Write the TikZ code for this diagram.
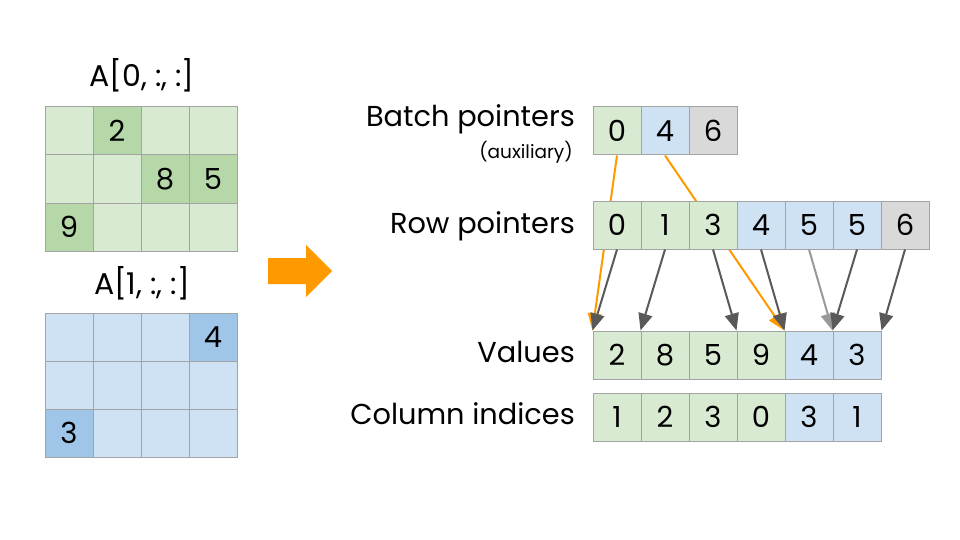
\documentclass[tikz,border=0pt]{standalone}
\usepackage{fontspec}
\setmainfont{Poppins}
\usetikzlibrary{arrows.meta,backgrounds}
\definecolor{lgreen}{HTML}{D9EAD3}
\definecolor{dgreen}{HTML}{B6D7A8}
\definecolor{lblue}{HTML}{CFE2F3}
\definecolor{dblue}{HTML}{9FC5E8}
\definecolor{lgrey}{HTML}{D9D9D9}
\definecolor{bgrey}{HTML}{A3A3A3}
\definecolor{orng}{HTML}{FF9900}
\definecolor{agrey}{HTML}{595959}
\definecolor{agreyl}{HTML}{999999}
\tikzset{
  cell/.style={draw=bgrey, line width=1pt, minimum width=48pt, minimum height=48pt,
    inner sep=0pt, font=\fontsize{29}{29}\selectfont},
  lbl/.style={anchor=base east, inner sep=0pt, font=\fontsize{28.8}{29}\selectfont},
  sublbl/.style={anchor=base east, inner sep=0pt, font=\fontsize{18.5}{19}\selectfont},
  ttl/.style={anchor=base, inner sep=0pt, font=\fontsize{30}{30}\selectfont},
  ptr/.style={draw=agrey, line width=2pt, -{Triangle[length=17pt,width=14pt]}},
  ptrl/.style={draw=agreyl, line width=2pt, -{Triangle[length=17pt,width=14pt]}},
  optr/.style={draw=orng, line width=2pt, -{Triangle[length=17pt,width=14pt]}},
}
\begin{document}
\begin{tikzpicture}[x=1pt,y=-1pt]
\useasboundingbox (0,0) rectangle (960,540);
% left matrices
\node[ttl] (t0) at (142,87) {A[0, :, :]};
\foreach \r/\c/\v/\f in {0/0//lgreen,0/1/2/dgreen,0/2//lgreen,0/3//lgreen,
  1/0//lgreen,1/1//lgreen,1/2/8/dgreen,1/3/5/dgreen,
  2/0/9/dgreen,2/1//lgreen,2/2//lgreen,2/3//lgreen}
  \node[cell,fill=\f] (p\r\c) at ({69+48*\c},{131+48*\r}) {\v};
\node[ttl] (t1) at (142,294) {A[1, :, :]};
\foreach \r/\c/\v/\f in {0/0//lblue,0/1//lblue,0/2//lblue,0/3/4/dblue,
  1/0//lblue,1/1//lblue,1/2//lblue,1/3//lblue,
  2/0/3/dblue,2/1//lblue,2/2//lblue,2/3//lblue}
  \node[cell,fill=\f] (q\r\c) at ({69+48*\c},{337+48*\r}) {\v};
% big arrow
\fill[orng] (268,258) -- (306,258) -- (306,245) -- (332,271) -- (306,297) -- (306,284) -- (268,284) -- cycle;
% labels
\node[lbl] (lb) at (575,127) {Batch pointers};
\node[sublbl] (la) at (573,159) {(auxiliary)};
\node[lbl] (lr) at (575,233) {Row pointers};
\node[lbl] (lv) at (575,362) {Values};
\node[lbl] (lc) at (575,424) {Column indices};
% arrays
\foreach \i/\v/\f in {0/0/lgreen,1/4/lblue,2/6/lgrey}
  \node[cell,fill=\f] (b\i) at ({617+48*\i},131) {\v};
\foreach \i/\v/\f in {0/0/lgreen,1/1/lgreen,2/3/lgreen,3/4/lblue,4/5/lblue,5/5/lblue,6/6/lgrey}
  \node[cell,fill=\f] (r\i) at ({617+48*\i},225) {\v};
\foreach \i/\v/\f in {0/2/lgreen,1/8/lgreen,2/5/lgreen,3/9/lgreen,4/4/lblue,5/3/lblue}
  \node[cell,fill=\f] (v\i) at ({617+48*\i},355) {\v};
\foreach \i/\v/\f in {0/1/lgreen,1/2/lgreen,2/3/lgreen,3/0/lgreen,4/3/lblue,5/1/lblue}
  \node[cell,fill=\f] (c\i) at ({617+48*\i},417) {\v};
% batch pointer links (behind arrays)
\begin{scope}[on background layer]
  \draw[optr] (b0.south) -- (v0.north west);
  \draw[optr] (b1.south) -- (v4.north west);
\end{scope}
% row pointer arrows
\draw[ptr] (r0.south) -- (v0.north west);
\draw[ptr] (r1.south) -- (v1.north west);
\draw[ptr] (r2.south) -- (v3.north west);
\draw[ptr] (r3.south) -- (v4.north west);
\draw[ptrl] (r4.south) -- (v5.north west);
\draw[ptr] (r5.south) -- (v5.north west);
\draw[ptr] (r6.south) -- (v5.north east);
\end{tikzpicture}
\end{document}
